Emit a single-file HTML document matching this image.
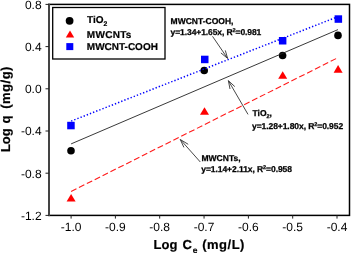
<!DOCTYPE html>
<html><head><meta charset="utf-8"><style>
html,body{margin:0;padding:0;background:#fff;}
body{width:351px;height:253px;overflow:hidden;}
svg{display:block;}
text{font-family:"Liberation Sans",sans-serif;text-rendering:geometricPrecision;}
.t{font-size:12px;fill:#000;}
.b{font-weight:bold;}
.a{font-size:8.5px;font-weight:bold;stroke:#000;stroke-width:0.25px;}
.l{font-size:10px;font-weight:bold;stroke:#000;stroke-width:0.2px;}
.ti{font-size:13px;font-weight:bold;stroke:#000;stroke-width:0.2px;}
</style></head><body>
<svg style="will-change:transform" width="351" height="253" viewBox="0 0 351 253">
<rect x="0" y="0" width="351" height="253" fill="#fff"/>
<!-- frame -->
<rect x="49" y="4.4" width="300.5" height="211" fill="none" stroke="#000" stroke-width="1.5"/>
<rect x="48" y="3.7" width="2" height="212.4" fill="#444"/>
<!-- y ticks -->
<g stroke="#222" stroke-width="1">
<line x1="45.5" y1="4.4" x2="49" y2="4.4"/>
<line x1="45.5" y1="46.6" x2="49" y2="46.6"/>
<line x1="45.5" y1="88.8" x2="49" y2="88.8"/>
<line x1="45.5" y1="131" x2="49" y2="131"/>
<line x1="45.5" y1="173.2" x2="49" y2="173.2"/>
<line x1="45.5" y1="215.4" x2="49" y2="215.4"/>
</g>
<!-- x ticks -->
<g stroke="#222" stroke-width="1">
<line x1="71.1" y1="215.4" x2="71.1" y2="218.6"/>
<line x1="115.4" y1="215.4" x2="115.4" y2="218.6"/>
<line x1="159.7" y1="215.4" x2="159.7" y2="218.6"/>
<line x1="204.05" y1="215.4" x2="204.05" y2="218.6"/>
<line x1="248.4" y1="215.4" x2="248.4" y2="218.6"/>
<line x1="292.7" y1="215.4" x2="292.7" y2="218.6"/>
<line x1="337" y1="215.4" x2="337" y2="218.6"/>
</g>
<!-- y labels -->
<g class="t" text-anchor="end">
<text x="41.6" y="8.8">0.8</text>
<text x="41.6" y="50.8">0.4</text>
<text x="41.6" y="93">0.0</text>
<text x="41.6" y="135.4">-0.4</text>
<text x="41.6" y="177.5">-0.8</text>
<text x="41.6" y="219.7">-1.2</text>
</g>
<!-- x labels -->
<g class="t" text-anchor="middle">
<text x="71.1" y="230.7">-1.0</text>
<text x="115.4" y="230.7">-0.9</text>
<text x="159.7" y="230.7">-0.8</text>
<text x="204.05" y="230.7">-0.7</text>
<text x="248.4" y="230.7">-0.6</text>
<text x="292.7" y="230.7">-0.5</text>
<text x="337" y="230.7">-0.4</text>
</g>
<!-- axis titles -->
<text class="ti" x="153.5" y="248.6">Log</text>
<text class="ti" x="182.6" y="248.6">C</text>
<text class="ti" x="192.7" y="252.7" style="font-size:8.4px">e</text>
<text class="ti" x="202.2" y="248.6" letter-spacing="0.5">(mg/L)</text>
<g transform="translate(9.8,0) rotate(-90)">
<text class="ti" x="-152.1" y="0">Log</text>
<text class="ti" x="-123.6" y="0">q</text>
<text class="ti" x="-108.8" y="0" letter-spacing="0.5">(mg/g)</text>
</g>

<!-- markers: TiO2 -->
<g fill="#000">
<circle cx="71" cy="150.7" r="3.8"/>
<circle cx="204.2" cy="70.5" r="3.8"/>
<circle cx="282.6" cy="55.5" r="3.8"/>
<circle cx="338" cy="35.4" r="3.8"/>
</g>
<!-- MWCNT-COOH squares -->
<g fill="#0000ff">
<rect x="67.2" y="121.8" width="7.5" height="7.5"/>
<rect x="201" y="55.7" width="7.5" height="7.5"/>
<rect x="278.9" y="37" width="7.5" height="7.5"/>
<rect x="334.6" y="15.3" width="7.5" height="7.5"/>
</g>
<!-- MWCNTs triangles -->
<g fill="#ff0000">
<polygon points="71.1,193.9 75.6,201.4 66.6,201.4"/>
<polygon points="204.5,107.2 209,114.8 200,114.8"/>
<polygon points="282.7,71.3 287.2,78.7 278.2,78.7"/>
<polygon points="338.1,65.1 342.6,72.8 333.6,72.8"/>
</g>

<!-- regression lines -->
<line x1="71.1" y1="143.9" x2="338" y2="29.6" stroke="#222" stroke-width="0.9"/>
<line x1="71.1" y1="191.5" x2="338.5" y2="57.4" stroke="#ff1a1a" stroke-width="1.1" stroke-dasharray="6,2.8"/>
<line x1="71.1" y1="121.1" x2="335" y2="17.8" stroke="#0000ff" stroke-width="1.5" stroke-dasharray="1.35,2.01"/>

<!-- legend -->
<rect x="52.7" y="7.5" width="112.3" height="51.5" fill="#fff" stroke="#000" stroke-width="1.3"/>
<circle cx="69.6" cy="20.8" r="3.9" fill="#000"/>
<polygon points="70,30.4 74.2,37.4 65.8,37.4" fill="#ff0000"/>
<rect x="66.3" y="43.1" width="7" height="7" fill="#0000ff"/>
<text class="l" x="87" y="23.4">TiO<tspan font-size="6.8px" dy="2.5">2</tspan></text>
<text class="l" x="86.8" y="38.3" letter-spacing="0.3">MWCNTs</text>
<text class="l" x="86.8" y="50.3">MWCNT-COOH</text>

<!-- annotations -->
<text class="a" x="170.6" y="23.7">MWCNT-COOH,</text>
<text class="a" x="170.6" y="34.8" letter-spacing="-0.09">y=1.34+1.65x, R<tspan font-size="5.5px" dy="-3">2</tspan><tspan dy="3">=0.981</tspan></text>

<text class="a" x="252.5" y="115.7">TiO<tspan font-size="5.5px" dy="2">2</tspan><tspan dy="-2">,</tspan></text>
<text class="a" x="252" y="129.2" letter-spacing="-0.07">y=1.28+1.80x, R<tspan font-size="5.5px" dy="-3">2</tspan><tspan dy="3">=0.952</tspan></text>

<text class="a" x="201.5" y="160.7">MWCNTs,</text>
<text class="a" x="201.3" y="172.1" letter-spacing="-0.07">y=1.14+2.11x, R<tspan font-size="5.5px" dy="-3">2</tspan><tspan dy="3">=0.958</tspan></text>

<!-- arrows -->
<g stroke="#333" stroke-width="0.9" fill="none">
<line x1="212.5" y1="36.3" x2="227.6" y2="58.4"/>
<polyline points="220.9,52.9 227.6,58.4 225.3,50.4"/>
<line x1="248" y1="114.4" x2="228.4" y2="80.7"/>
<polyline points="230,89 228.4,80.7 234.8,86.6"/>
<line x1="200.3" y1="162" x2="180.3" y2="139.5"/>
<polyline points="183.9,147.4 180.3,139.5 188.2,144.3"/>
</g>
</svg>
</body></html>
